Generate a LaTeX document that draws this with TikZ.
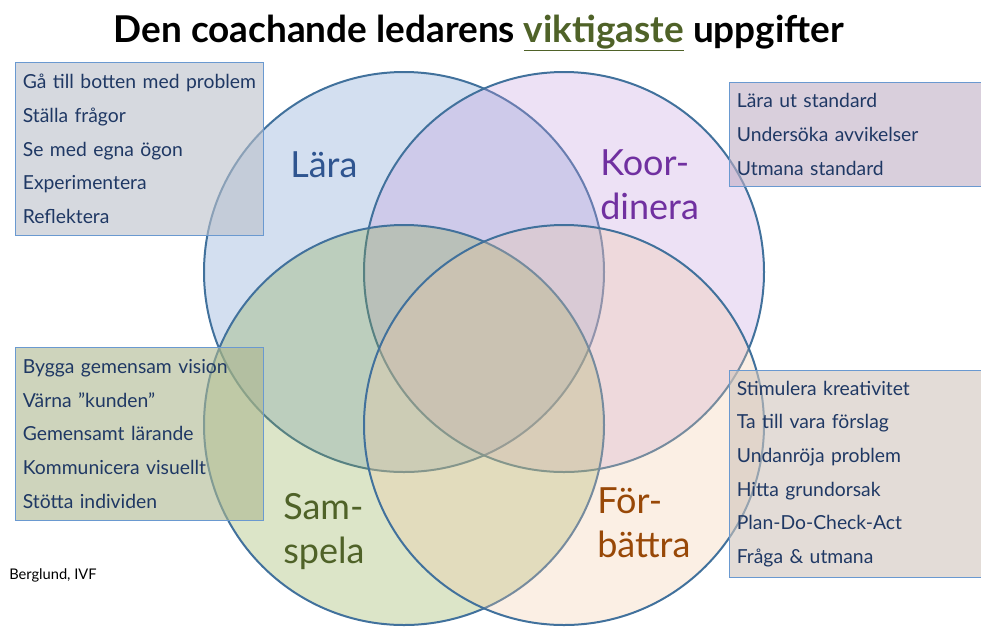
\documentclass[tikz,border=0pt]{standalone}
\usepackage{fontspec}
\setmainfont{Lato}
\definecolor{vennline}{HTML}{41719C}
\definecolor{laraFill}{HTML}{6C94CD}
\definecolor{koorFill}{HTML}{C39BDE}
\definecolor{samFill}{HTML}{8AA848}
\definecolor{forFill}{HTML}{F2C9A4}
\definecolor{laraText}{HTML}{2F5590}
\definecolor{koorText}{HTML}{7030A0}
\definecolor{samText}{HTML}{4F6228}
\definecolor{forText}{HTML}{984807}
\definecolor{boxText}{HTML}{1F3864}
\definecolor{boxLine}{HTML}{6A99D0}
\definecolor{laraBoxFill}{RGB}{187,192,202}
\definecolor{koorBoxFill}{RGB}{192,175,197}
\definecolor{samBoxFill}{RGB}{173,183,143}
\definecolor{forBoxFill}{RGB}{208,197,188}
\begin{document}
\begin{tikzpicture}[x=0.75pt,y=-0.75pt,
    venn/.style={circle,draw=vennline,line width=1.5pt,minimum size=300pt,inner sep=0pt,fill opacity=0.3},
    infobox/.style={rectangle,draw=boxLine,line width=0.75pt,fill opacity=0.6,text opacity=1,text=boxText,
      anchor=north west,align=left,inner xsep=5pt,font=\fontsize{14.5}{25.3}\selectfont},
    biglabel/.style={anchor=base west,align=left,inner sep=0pt,font=\fontsize{27}{32.5}\selectfont}]
    \useasboundingbox (0,0) rectangle (981,626);
    \clip (0,0) rectangle (981,626);
    % the four circles
    \node[venn,fill=laraFill](lara) at (404,272){};
    \node[venn,fill=koorFill](koor) at (564,272){};
    \node[venn,fill=samFill](samspela) at (404,425){};
    \node[venn,fill=forFill](forbattra) at (564,425){};
    % title
    \node[anchor=base,font=\bfseries\fontsize{27.7}{32}\selectfont](title) at (479,42){Den coachande ledarens {\color{samText}\underline{viktigaste}} uppgifter};
    % boxes
    \node[infobox,fill=laraBoxFill,minimum width=186pt,minimum height=129.75pt,text width=175pt](laraBox) at (15,62){G\aa{} till botten med problem\\St\"alla fr\aa gor\\Se med egna \"ogon\\Experimentera\\Reflektera};
    \node[infobox,fill=koorBoxFill,minimum width=225pt,minimum height=78pt,text width=214pt](koorBox) at (729,82){L\"ara ut standard\\Unders\"oka avvikelser\\Utmana standard};
    \node[infobox,fill=samBoxFill,minimum width=186pt,minimum height=129.75pt,text width=175pt](samBox) at (15,347){Bygga gemensam vision\\V\"arna ''kunden''\\Gemensamt l\"arande\\Kommunicera visuellt\\St\"otta individen};
    \node[infobox,fill=forBoxFill,minimum width=225pt,minimum height=155.25pt,text width=214pt](forBox) at (729,370){Stimulera kreativitet\\Ta till vara f\"orslag\\Undanr\"oja problem\\Hitta grundorsak\\Plan-Do-Check-Act\\Fr\aa ga \& utmana};
    % circle labels (base = last line)
    \node[biglabel,text=laraText](laraLbl) at (290,177){L\"ara};
    \node[biglabel,text=koorText](koorLbl) at (600,219){Koor-\\dinera};
    \node[biglabel,text=samText](samLbl) at (283,563){Sam-\\spela};
    \node[biglabel,text=forText](forLbl) at (597,557){F\"or-\\b\"attra};
    \node[anchor=base west,inner sep=0pt,font=\fontsize{11}{13}\selectfont](credit) at (9,579){Berglund, IVF};
\end{tikzpicture}
\end{document}
